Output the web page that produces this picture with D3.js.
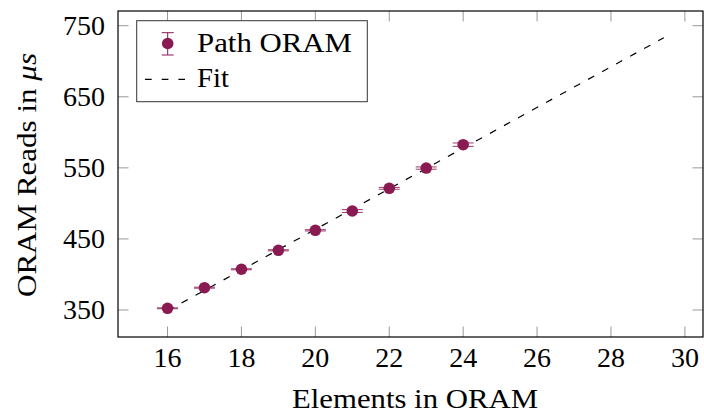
<!DOCTYPE html>
<html><head><meta charset="utf-8">
<script src="https://cdn.jsdelivr.net/npm/d3@7"></script>
<style>body{margin:0;background:#fff}svg{display:block}text{font-family:"Liberation Serif","DejaVu Serif",serif;fill:#000}</style>
</head><body><svg id="c" width="704" height="414"></svg>
<script>
const elements = [16,17,18,19,20,21,22,23,24];
const readsUs = [352.4,381.4,407.3,434.0,462.1,489.3,521.2,549.7,582.6];
const readsErr = [0.6,0.7,0.7,0.8,0.9,2.0,1.3,1.6,2.4];
const fitX = [16, 29.43];
const fitY = [349.0, 733.1];
const xTicks = [16,18,20,22,24,26,28,30];
const yTicks = [350,450,550,650,750];

const svg = d3.select("#c");
const L=118, R=703, T=11, B=337;
const x = d3.scaleLinear().domain([14.66,30.49]).range([L,R]);
const y = d3.scaleLinear().domain([312,770.7]).range([B,T]);
const col = "#8a1a52";

const tk = 10.5;
const g = svg.append("g");
xTicks.forEach(v=>{
  g.append("line").attr("x1",x(v)).attr("x2",x(v)).attr("y1",B).attr("y2",B-tk).attr("stroke","#999").attr("stroke-width",1);
  g.append("line").attr("x1",x(v)).attr("x2",x(v)).attr("y1",T).attr("y2",T+tk).attr("stroke","#999").attr("stroke-width",1);
  g.append("text").attr("x",x(v)).attr("y",367).attr("text-anchor","middle").attr("font-size",28).text(v);
});
yTicks.forEach(v=>{
  g.append("line").attr("x1",L).attr("x2",L+tk).attr("y1",y(v)).attr("y2",y(v)).attr("stroke","#999").attr("stroke-width",1);
  g.append("line").attr("x1",R).attr("x2",R-tk).attr("y1",y(v)).attr("y2",y(v)).attr("stroke","#999").attr("stroke-width",1);
  g.append("text").attr("x",105).attr("y",y(v)+9.3).attr("text-anchor","end").attr("font-size",28).text(v);
});

svg.append("path").datum(fitX.map((d,i)=>[d,fitY[i]]))
  .attr("d",d3.line().x(d=>x(d[0])).y(d=>y(d[1])))
  .attr("fill","none").attr("stroke","#000").attr("stroke-width",1.2).attr("stroke-dasharray","7,9");

const pts = svg.append("g");
elements.forEach((e,i)=>{
  const cx=x(e), v=readsUs[i], er=readsErr[i];
  pts.append("line").attr("x1",cx).attr("x2",cx).attr("y1",y(v-er)).attr("y2",y(v+er)).attr("stroke",col).attr("stroke-width",1);
  [v-er,v+er].forEach(c=>pts.append("line").attr("x1",cx-10.5).attr("x2",cx+10.5).attr("y1",y(c)).attr("y2",y(c)).attr("stroke",col).attr("stroke-width",1).attr("stroke-opacity",0.85));
  pts.append("circle").attr("cx",cx).attr("cy",y(v)).attr("r",5.8).attr("fill",col);
});

svg.append("rect").attr("x",L).attr("y",T).attr("width",R-L).attr("height",B-T).attr("fill","none").attr("stroke","#000").attr("stroke-width",1.2);

const lg = svg.append("g");
lg.append("rect").attr("x",136.7).attr("y",20.7).attr("width",230.6).attr("height",81).attr("fill","#fff").attr("stroke","#333").attr("stroke-width",1);
lg.append("line").attr("x1",167.7).attr("x2",167.7).attr("y1",32.7).attr("y2",55).attr("stroke",col).attr("stroke-width",1);
[32.7,55].forEach(yy=>lg.append("line").attr("x1",161.7).attr("x2",173.7).attr("y1",yy).attr("y2",yy).attr("stroke",col).attr("stroke-width",1));
lg.append("circle").attr("cx",167.7).attr("cy",43.5).attr("r",5.8).attr("fill",col);
lg.append("line").attr("x1",145).attr("x2",185).attr("y1",79.3).attr("y2",79.3).attr("stroke","#000").attr("stroke-width",1.2).attr("stroke-dasharray","6.7,10");
lg.append("text").attr("x",197).attr("y",52).attr("font-size",27).attr("textLength",155).attr("lengthAdjust","spacingAndGlyphs").text("Path ORAM");
lg.append("text").attr("x",197).attr("y",87).attr("font-size",27).attr("textLength",32).attr("lengthAdjust","spacingAndGlyphs").text("Fit");

svg.append("text").attr("x",292).attr("y",408).attr("font-size",28).attr("textLength",246).attr("lengthAdjust","spacingAndGlyphs").text("Elements in ORAM");
const yl = svg.append("text").attr("transform","translate(35.5,297) rotate(-90)").attr("font-size",28)
  .attr("textLength",244).attr("lengthAdjust","spacingAndGlyphs");
yl.append("tspan").text("ORAM Reads in ");
yl.append("tspan").attr("font-style","italic").text("μs");
</script></body></html>
